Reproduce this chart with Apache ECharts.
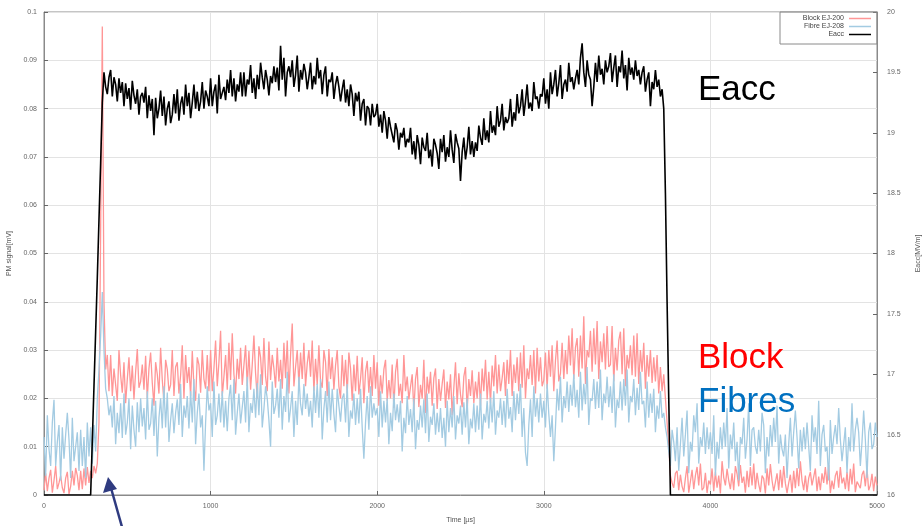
<!DOCTYPE html>
<html>
<head>
<meta charset="utf-8">
<script src="https://cdn.jsdelivr.net/npm/echarts@6/dist/echarts.min.js"></script>
<style>
html,body{margin:0;padding:0;background:#fff;}
#chart{width:923px;height:526px;}
</style>
</head>
<body>
<div id="chart"></div>
<script>
// sampling interval of the traces (µs); sample k is at time k*DT
const DT = 10;
const seriesNames = ['Block EJ-200', 'Fibre EJ-208', 'Eacc'];
const xTicks = [0, 1000, 2000, 3000, 4000, 5000];

// PM signal, Block EJ-200 (mV), one row = 200 µs
const blockValues = [
.0010,.0045,.0008,.0035,.0052,.0005,.0030,.0060,.0012,.0025,.0040,.0015,.0004,.0035,.0048,.0002,.0018,.0050,.0020,.0056,
.0040,.0010,.0050,.0012,.0055,.0020,.0058,.0025,.0050,.0035,.0060,.0045,.0065,.0150,.0550,.0970,.0400,.0260,.0290,.0215,
.0290,.0205,.0262,.0228,.0195,.0300,.0248,.0212,.0275,.0190,.0240,.0285,.0215,.0268,.0198,.0255,.0302,.0222,.0235,.0270,
.0218,.0288,.0200,.0262,.0295,.0232,.0185,.0275,.0250,.0210,.0305,.0238,.0192,.0280,.0260,.0215,.0228,.0300,.0205,.0265,
.0275,.0210,.0248,.0310,.0200,.0290,.0232,.0265,.0205,.0298,.0225,.0195,.0285,.0270,.0212,.0300,.0240,.0220,.0290,.0215,
.0300,.0215,.0262,.0320,.0225,.0275,.0340,.0205,.0245,.0290,.0218,.0315,.0238,.0335,.0250,.0210,.0282,.0240,.0305,.0228,
.0232,.0310,.0225,.0298,.0218,.0270,.0330,.0252,.0200,.0308,.0285,.0228,.0325,.0245,.0215,.0318,.0238,.0290,.0262,.0222,
.0305,.0235,.0280,.0220,.0315,.0242,.0320,.0210,.0290,.0355,.0225,.0265,.0300,.0230,.0295,.0240,.0315,.0225,.0272,.0300,
.0245,.0320,.0215,.0282,.0228,.0310,.0235,.0222,.0300,.0275,.0205,.0302,.0240,.0285,.0218,.0268,.0300,.0225,.0200,.0290,
.0225,.0280,.0210,.0295,.0262,.0195,.0270,.0215,.0288,.0208,.0240,.0285,.0190,.0255,.0278,.0212,.0265,.0205,.0290,.0220,
.0275,.0185,.0248,.0210,.0260,.0280,.0195,.0238,.0200,.0270,.0180,.0255,.0282,.0205,.0230,.0190,.0290,.0215,.0245,.0198,
.0195,.0250,.0175,.0240,.0265,.0182,.0228,.0200,.0280,.0170,.0245,.0210,.0255,.0185,.0242,.0262,.0178,.0240,.0195,.0230,
.0260,.0180,.0235,.0198,.0250,.0165,.0222,.0275,.0188,.0252,.0208,.0182,.0245,.0265,.0175,.0240,.0205,.0258,.0190,.0235,
.0200,.0255,.0185,.0262,.0215,.0280,.0198,.0255,.0190,.0268,.0225,.0290,.0210,.0270,.0215,.0242,.0275,.0205,.0280,.0230,
.0300,.0205,.0270,.0232,.0285,.0215,.0295,.0222,.0310,.0200,.0262,.0240,.0290,.0228,.0300,.0210,.0305,.0235,.0285,.0225,
.0238,.0295,.0220,.0300,.0245,.0310,.0215,.0278,.0320,.0235,.0252,.0315,.0240,.0300,.0250,.0330,.0268,.0345,.0240,.0305,
.0325,.0245,.0330,.0262,.0370,.0230,.0300,.0285,.0340,.0255,.0345,.0270,.0360,.0240,.0318,.0275,.0335,.0260,.0350,.0265,
.0270,.0350,.0235,.0305,.0258,.0320,.0338,.0250,.0345,.0225,.0290,.0262,.0310,.0248,.0330,.0245,.0335,.0230,.0300,.0255,
.0315,.0220,.0290,.0245,.0300,.0232,.0285,.0235,.0290,.0210,.0265,.0215,.0250,.0200,.0150,.0100,.0040,.0025,.0015,.0045,
.0050,.0010,.0042,.0018,.0006,.0035,.0060,.0005,.0028,.0052,.0012,.0040,.0058,.0020,.0065,.0010,.0015,.0046,.0004,.0030,
.0022,.0055,.0008,.0048,.0015,.0040,.0003,.0070,.0036,.0020,.0054,.0030,.0012,.0045,.0010,.0060,.0044,.0018,.0062,.0025,
.0038,.0005,.0050,.0016,.0058,.0020,.0065,.0012,.0046,.0022,.0006,.0040,.0034,.0003,.0055,.0020,.0064,.0030,.0008,.0026,
.0045,.0010,.0052,.0015,.0060,.0024,.0004,.0025,.0042,.0005,.0050,.0014,.0056,.0018,.0070,.0030,.0010,.0040,.0006,.0035,
.0048,.0020,.0016,.0055,.0008,.0038,.0010,.0045,.0025,.0058,.0022,.0062,.0004,.0030,.0012,.0040,.0050,.0015,.0058,.0024,
.0036,.0012,.0048,.0008,.0054,.0022,.0065,.0006,.0028,.0032,.0014,.0042,.0050,.0018,.0055,.0010,.0020,.0044,.0008,.0038,
.0020
];

// PM signal, Fibre EJ-208 (mV), one row = 200 µs
const fibreValues = [
.0120,.0040,.0165,.0095,.0060,.0150,.0197,.0060,.0110,.0145,.0030,.0140,.0075,.0125,.0170,.0115,.0035,.0160,.0070,.0100,
.0130,.0050,.0135,.0060,.0120,.0035,.0150,.0080,.0140,.0065,.0145,.0090,.0200,.0260,.0330,.0420,.0300,.0220,.0200,.0165,
.0185,.0140,.0205,.0105,.0170,.0128,.0190,.0118,.0210,.0125,.0150,.0200,.0095,.0185,.0135,.0100,.0192,.0130,.0200,.0142,
.0180,.0115,.0215,.0135,.0148,.0200,.0122,.0195,.0080,.0160,.0200,.0138,.0225,.0140,.0212,.0110,.0155,.0190,.0128,.0170,
.0198,.0145,.0230,.0120,.0185,.0160,.0205,.0138,.0215,.0150,.0240,.0105,.0170,.0210,.0140,.0165,.0050,.0150,.0225,.0175,
.0190,.0120,.0235,.0145,.0165,.0210,.0150,.0215,.0140,.0195,.0132,.0200,.0228,.0155,.0240,.0125,.0170,.0210,.0148,.0182,
.0215,.0150,.0245,.0130,.0190,.0170,.0220,.0160,.0232,.0165,.0250,.0140,.0178,.0225,.0200,.0155,.0100,.0235,.0168,.0185,
.0220,.0160,.0240,.0135,.0205,.0172,.0255,.0150,.0180,.0215,.0120,.0195,.0145,.0245,.0188,.0165,.0230,.0178,.0210,.0162,
.0195,.0140,.0225,.0170,.0230,.0160,.0240,.0115,.0178,.0215,.0150,.0235,.0155,.0220,.0168,.0130,.0220,.0185,.0152,.0200,
.0210,.0150,.0230,.0120,.0175,.0158,.0210,.0145,.0200,.0148,.0220,.0140,.0075,.0150,.0205,.0135,.0225,.0160,.0190,.0165,
.0180,.0120,.0215,.0140,.0195,.0150,.0200,.0105,.0170,.0132,.0210,.0155,.0188,.0150,.0195,.0090,.0160,.0128,.0205,.0145,
.0178,.0130,.0200,.0095,.0155,.0135,.0185,.0140,.0198,.0128,.0210,.0110,.0162,.0145,.0190,.0125,.0170,.0130,.0180,.0118,
.0160,.0100,.0195,.0130,.0180,.0140,.0205,.0115,.0165,.0148,.0185,.0125,.0192,.0140,.0200,.0105,.0158,.0138,.0190,.0130,
.0185,.0135,.0210,.0115,.0168,.0150,.0195,.0138,.0202,.0150,.0215,.0125,.0175,.0160,.0200,.0145,.0195,.0140,.0220,.0158,
.0182,.0130,.0215,.0155,.0210,.0168,.0230,.0120,.0180,.0088,.0060,.0145,.0198,.0120,.0225,.0162,.0200,.0150,.0210,.0160,
.0195,.0140,.0230,.0168,.0120,.0165,.0070,.0140,.0220,.0175,.0245,.0150,.0205,.0180,.0235,.0172,.0228,.0185,.0250,.0182,
.0218,.0160,.0255,.0175,.0230,.0188,.0265,.0145,.0200,.0195,.0240,.0178,.0235,.0180,.0260,.0155,.0210,.0190,.0245,.0182,
.0225,.0170,.0250,.0140,.0198,.0180,.0235,.0175,.0240,.0185,.0260,.0150,.0205,.0192,.0240,.0165,.0222,.0176,.0255,.0188,
.0195,.0140,.0235,.0160,.0210,.0170,.0220,.0130,.0185,.0158,.0215,.0160,.0170,.0140,.0120,.0090,.0060,.0135,.0110,.0070,
.0140,.0050,.0105,.0160,.0080,.0125,.0175,.0045,.0110,.0090,.0165,.0130,.0190,.0065,.0120,.0100,.0150,.0085,.0140,.0095,
.0130,.0085,.0165,.0040,.0110,.0075,.0140,.0095,.0150,.0100,.0180,.0055,.0125,.0095,.0150,.0070,.0110,.0030,.0120,.0105,
.0160,.0075,.0115,.0190,.0060,.0135,.0140,.0100,.0085,.0135,.0090,.0170,.0145,.0045,.0120,.0080,.0145,.0100,.0160,.0110,
.0185,.0065,.0125,.0095,.0080,.0125,.0035,.0105,.0160,.0080,.0130,.0175,.0120,.0055,.0135,.0090,.0140,.0095,.0150,.0100,
.0050,.0165,.0110,.0140,.0085,.0195,.0060,.0125,.0145,.0090,.0100,.0030,.0155,.0085,.0120,.0145,.0105,.0180,.0115,.0070,
.0105,.0140,.0045,.0120,.0090,.0190,.0090,.0135,.0160,.0130,.0060,.0110,.0175,.0115,.0035,.0130,.0150,.0095,.0105,.0150,
.0120
];

// Accelerating field Eacc (MV/m), one row = 200 µs
const eaccValues = [
16,16,16,16,16,16,16,16,16,16,16,16,16,16,16,16,16,16,16,16,
16,16,16,16,16,16,16,16,16,16.45,16.9,17.35,17.8,18.28,18.75,19.25,19.5,19.38,19.32,19.46,
19.52,19.30,19.46,19.40,19.26,19.45,19.33,19.42,19.22,19.41,19.28,19.37,19.19,19.43,19.31,19.24,19.36,19.15,19.30,19.33,
19.25,19.38,19.12,19.31,19.18,19.28,18.98,19.29,19.12,19.20,19.35,19.14,19.30,19.06,19.20,19.26,19.08,19.15,19.32,19.16,
19.36,19.10,19.24,19.30,19.15,19.40,19.22,19.33,19.12,19.25,19.40,19.20,19.34,19.18,19.26,19.42,19.20,19.35,19.30,19.22,
19.45,19.22,19.34,19.40,19.16,19.48,19.28,19.33,19.38,19.27,19.44,19.33,19.52,19.30,19.45,19.26,19.40,19.34,19.50,19.30,
19.50,19.30,19.44,19.40,19.56,19.33,19.45,19.28,19.48,19.36,19.58,19.46,19.36,19.52,19.44,19.31,19.47,19.41,19.55,19.42,
19.54,19.35,19.72,19.44,19.62,19.30,19.50,19.55,19.46,19.60,19.38,19.48,19.64,19.34,19.52,19.44,19.57,19.50,19.36,19.46,
19.58,19.36,19.47,19.40,19.62,19.45,19.52,19.32,19.48,19.55,19.30,19.44,19.42,19.50,19.28,19.40,19.47,19.38,19.26,19.36,
19.44,19.25,19.36,19.22,19.40,19.32,19.14,19.33,19.26,19.34,19.10,19.24,19.28,19.06,19.22,19.20,19.06,19.24,19.13,19.15,
19.24,19.05,19.15,19.00,19.18,19.10,18.95,19.13,19.05,19.04,18.92,19.08,19.02,18.86,19.00,18.96,19.04,18.88,18.95,18.92,
19.04,18.82,18.93,18.78,18.98,18.90,18.74,18.96,18.88,18.85,19.00,18.79,18.86,18.72,18.95,18.90,18.83,18.70,18.95,18.84,
18.98,18.76,18.88,18.80,19.02,18.86,18.75,18.99,18.92,18.87,18.60,18.84,18.96,18.78,18.88,19.05,18.82,18.93,18.80,18.92,
18.85,19.06,18.96,18.90,19.12,18.94,19.02,18.92,19.18,19.00,19.06,18.98,19.22,19.05,19.10,19.24,19.02,19.13,19.08,19.12,
19.28,19.05,19.17,19.10,19.32,19.16,19.22,19.36,19.14,19.26,19.40,19.20,19.25,19.18,19.42,19.28,19.30,19.20,19.32,19.30,
19.45,19.24,19.36,19.20,19.50,19.32,19.40,19.52,19.30,19.41,19.56,19.28,19.40,19.44,19.34,19.58,19.42,19.46,19.36,19.45,
19.52,19.40,19.62,19.74,19.50,19.38,19.60,19.48,19.44,19.22,19.38,19.58,19.42,19.64,19.48,19.53,19.40,19.60,19.50,19.55,
19.66,19.42,19.54,19.64,19.38,19.55,19.50,19.68,19.45,19.56,19.35,19.62,19.48,19.54,19.44,19.60,19.47,19.52,19.40,19.50,
19.55,19.34,19.44,19.50,19.22,19.42,19.36,19.52,19.38,19.44,19.30,19.36,19.20,18.50,17.60,16.80,16,16,16,16,
16,16,16,16,16,16,16,16,16,16,16,16,16,16,16,16,16,16,16,16,
16,16,16,16,16,16,16,16,16,16,16,16,16,16,16,16,16,16,16,16,
16,16,16,16,16,16,16,16,16,16,16,16,16,16,16,16,16,16,16,16,
16,16,16,16,16,16,16,16,16,16,16,16,16,16,16,16,16,16,16,16,
16,16,16,16,16,16,16,16,16,16,16,16,16,16,16,16,16,16,16,16,
16,16,16,16,16,16,16,16,16,16,16,16,16,16,16,16,16,16,16,16,
16
];

const toPairs = arr => arr.map((v, k) => [k * DT, v]);

const FONT = '"Liberation Sans", Arial, sans-serif';
const chart = echarts.init(document.getElementById('chart'), null, {renderer: 'canvas'});

const axisLabelStyle = {fontSize: 7, color: '#666', fontFamily: FONT};

function legendFor(name, top) {
  return {
    data: [name], orient: 'vertical', right: 52, top: top,
    align: 'right', icon: 'rect', itemWidth: 22, itemHeight: 1.5,
    padding: 0, itemGap: 0,
    textStyle: {fontSize: 7, color: '#444', fontFamily: FONT}
  };
}

chart.setOption({
  animation: false,
  backgroundColor: '#fff',
  color: ['#ff9696', '#a3cbe2', '#000000'],
  grid: {left: 44, right: 46, top: 12, bottom: 31, outerBoundsMode: 'none', containLabel: false,
         show: true, borderColor: '#8a8a8a', borderWidth: 1, backgroundColor: 'transparent'},
  legend: [legendFor(seriesNames[0], 15), legendFor(seriesNames[1], 23), legendFor(seriesNames[2], 31)],
  xAxis: {
    type: 'value', min: xTicks[0], max: xTicks[xTicks.length - 1], interval: 1000,
    name: 'Time [µs]', nameLocation: 'middle', nameGap: 22,
    nameTextStyle: {fontSize: 7, color: '#555', fontFamily: FONT},
    axisLine: {lineStyle: {color: '#8a8a8a'}},
    axisTick: {inside: true, length: 4, lineStyle: {color: '#666'}},
    axisLabel: Object.assign({margin: 8, formatter: v => String(v)}, axisLabelStyle),
    splitLine: {show: true, lineStyle: {color: '#e3e3e3', width: 1}}
  },
  yAxis: [{
    type: 'value', min: 0, max: 0.1, interval: 0.01,
    name: 'PM signal[mV]', nameLocation: 'middle', nameGap: 27, nameRotate: 90,
    nameTextStyle: {fontSize: 7, color: '#555', fontFamily: FONT},
    axisLine: {show: true, lineStyle: {color: '#8a8a8a'}},
    axisTick: {show: true, inside: true, length: 4, lineStyle: {color: '#666'}},
    axisLabel: Object.assign({margin: 7, formatter: v => String(+v.toFixed(2))}, axisLabelStyle),
    splitLine: {show: true, lineStyle: {color: '#e3e3e3', width: 1}}
  }, {
    type: 'value', min: 16, max: 20, interval: 0.5, position: 'right',
    name: 'Eacc[MV/m]', nameLocation: 'middle', nameGap: 38, nameRotate: 90,
    nameTextStyle: {fontSize: 7, color: '#555', fontFamily: FONT},
    axisLine: {show: true, lineStyle: {color: '#8a8a8a'}},
    axisTick: {show: true, inside: true, length: 4, lineStyle: {color: '#666'}},
    axisLabel: Object.assign({margin: 10, formatter: v => String(+v.toFixed(1))}, axisLabelStyle),
    splitLine: {show: false}
  }],
  series: [
    {name: seriesNames[0], type: 'line', yAxisIndex: 0, data: toPairs(blockValues), showSymbol: false, symbol: 'none', lineStyle: {width: 1.3}, z: 2},
    {name: seriesNames[1], type: 'line', yAxisIndex: 0, data: toPairs(fibreValues), showSymbol: false, symbol: 'none', lineStyle: {width: 1.3}, z: 3},
    {name: seriesNames[2], type: 'line', yAxisIndex: 1, data: toPairs(eaccValues), showSymbol: false, symbol: 'none', lineStyle: {width: 1.6}, z: 4}
  ],
  graphic: [
    {type: 'rect', shape: {x: 780, y: 12, width: 97, height: 32}, style: {fill: 'transparent', stroke: '#8a8a8a', lineWidth: 1}, z: 1},
    {type: 'text', x: 698, y: 90, style: {text: 'Eacc', fill: '#000', font: '35px ' + FONT, textVerticalAlign: 'middle'}, z: 10},
    {type: 'text', x: 698, y: 358, style: {text: 'Block', fill: '#ff0000', font: '35px ' + FONT, textVerticalAlign: 'middle'}, z: 10},
    {type: 'text', x: 698, y: 402, style: {text: 'Fibres', fill: '#0070c0', font: '35px ' + FONT, textVerticalAlign: 'middle'}, z: 10},
    {type: 'polyline', shape: {points: [[122, 527], [111, 488]]}, style: {stroke: '#2f3b80', lineWidth: 2.5}, z: 10},
    {type: 'polygon', shape: {points: [[108, 477], [103, 493], [117, 489]]}, style: {fill: '#2f3b80'}, z: 10}
  ]
});
</script>
</body>
</html>
